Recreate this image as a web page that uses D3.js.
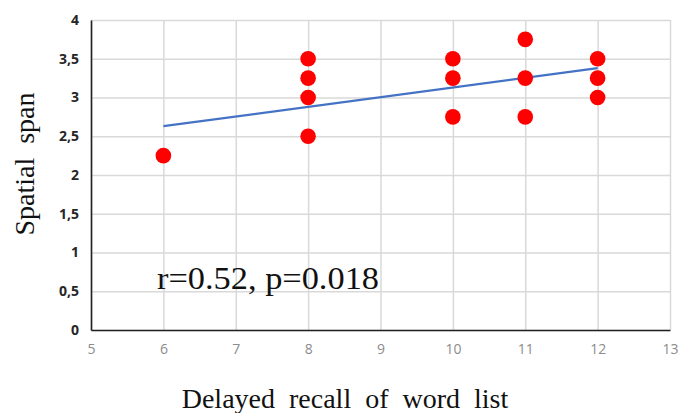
<!DOCTYPE html>
<html>
<head>
<meta charset="utf-8">
<script src="https://cdn.jsdelivr.net/npm/d3@7"></script>
<style>
  html, body { margin: 0; padding: 0; background: #fff; }
  svg { display: block; }
</style>
</head>
<body>
<svg id="chart" width="678" height="413"></svg>
<script>
// ---- data ----
const xValues = [6, 8, 8, 8, 8, 10, 10, 10, 11, 11, 11, 12, 12, 12];
const yValues = [2.25, 3.5, 3.25, 3.0, 2.5, 3.5, 3.25, 2.75, 3.75, 3.25, 2.75, 3.5, 3.25, 3.0];
const trendX = [6, 12];
const trendY = [2.63, 3.38];
const xTicks = [5, 6, 7, 8, 9, 10, 11, 12, 13];
const yTicks = [0, 0.5, 1, 1.5, 2, 2.5, 3, 3.5, 4];
const yTickLabels = ["0", "0,5", "1", "1,5", "2", "2,5", "3", "3,5", "4"];
const xTitle = "Delayed recall of word list";
const yTitle = "Spatial span";
const annotation = "r=0.52, p=0.018";

// ---- layout ----
const plotLeft = 91, plotRight = 670, plotTop = 20, plotBottom = 330;
const svg = d3.select("#chart");
const x = d3.scaleLinear().domain([5, 13]).range([plotLeft, plotRight]);
const y = d3.scaleLinear().domain([0, 4]).range([plotBottom, plotTop]);

// gridlines
const gx = svg.append("g").attr("transform", `translate(0,${plotBottom})`)
  .call(d3.axisBottom(x).tickValues(xTicks).tickSize(-(plotBottom - plotTop)).tickFormat(""));
gx.select(".domain").remove();
gx.selectAll("line").attr("stroke", "#d9d9d9").attr("stroke-width", 1.5);

const gy = svg.append("g").attr("transform", `translate(${plotLeft},0)`)
  .call(d3.axisLeft(y).tickValues(yTicks).tickSize(-(plotRight - plotLeft)).tickFormat(""));
gy.select(".domain").remove();
gy.selectAll("line").attr("stroke", "#d9d9d9").attr("stroke-width", 1.5);

// axis lines
const xAxis = svg.append("g").attr("transform", `translate(0,${plotBottom})`)
  .call(d3.axisBottom(x).tickValues(xTicks).tickSize(0).tickPadding(14).tickFormat(d3.format("d")));
xAxis.select(".domain").attr("stroke", "#222").attr("stroke-width", 1.6);
xAxis.selectAll("text")
  .attr("font-family", "'Open Sans', 'Liberation Sans', sans-serif")
  .attr("font-size", 14).attr("fill", "#8c8c8c");

const yAxis = svg.append("g").attr("transform", `translate(${plotLeft},0)`)
  .call(d3.axisLeft(y).tickValues(yTicks).tickSize(0).tickPadding(12)
    .tickFormat((d, i) => yTickLabels[i]));
yAxis.select(".domain").attr("stroke", "#222").attr("stroke-width", 1.6);
yAxis.selectAll("text")
  .attr("font-family", "'Open Sans', 'Liberation Sans', sans-serif")
  .attr("font-weight", "bold")
  .attr("font-size", 14).attr("fill", "#262626");

// trend line
const line = d3.line().x(d => x(d[0])).y(d => y(d[1]));
svg.append("path")
  .datum(trendX.map((v, i) => [v, trendY[i]]))
  .attr("d", line)
  .attr("fill", "none")
  .attr("stroke", "#4472c4")
  .attr("stroke-width", 2.2);

// points
svg.append("g").selectAll("circle")
  .data(xValues.map((v, i) => [v, yValues[i]]))
  .join("circle")
  .attr("cx", d => x(d[0]))
  .attr("cy", d => y(d[1]))
  .attr("r", 7.8)
  .attr("fill", "#ff0000");

// annotation
svg.append("text")
  .attr("x", 157).attr("y", 289)
  .attr("font-family", "'Liberation Serif', 'Times New Roman', serif")
  .attr("font-size", 31)
  .attr("fill", "#111")
  .attr("textLength", 222)
  .attr("lengthAdjust", "spacingAndGlyphs")
  .text(annotation);

// axis titles
svg.append("text")
  .attr("x", 345).attr("y", 408)
  .attr("text-anchor", "middle")
  .attr("font-family", "'Liberation Serif', 'Times New Roman', serif")
  .attr("font-size", 28)
  .attr("word-spacing", 7)
  .attr("fill", "#111")
  .text(xTitle);

svg.append("text")
  .attr("transform", "translate(34,164) rotate(-90)")
  .attr("text-anchor", "middle")
  .attr("font-family", "'Liberation Serif', 'Times New Roman', serif")
  .attr("font-size", 28)
  .attr("word-spacing", 7)
  .attr("fill", "#111")
  .text(yTitle);
</script>
</body>
</html>
